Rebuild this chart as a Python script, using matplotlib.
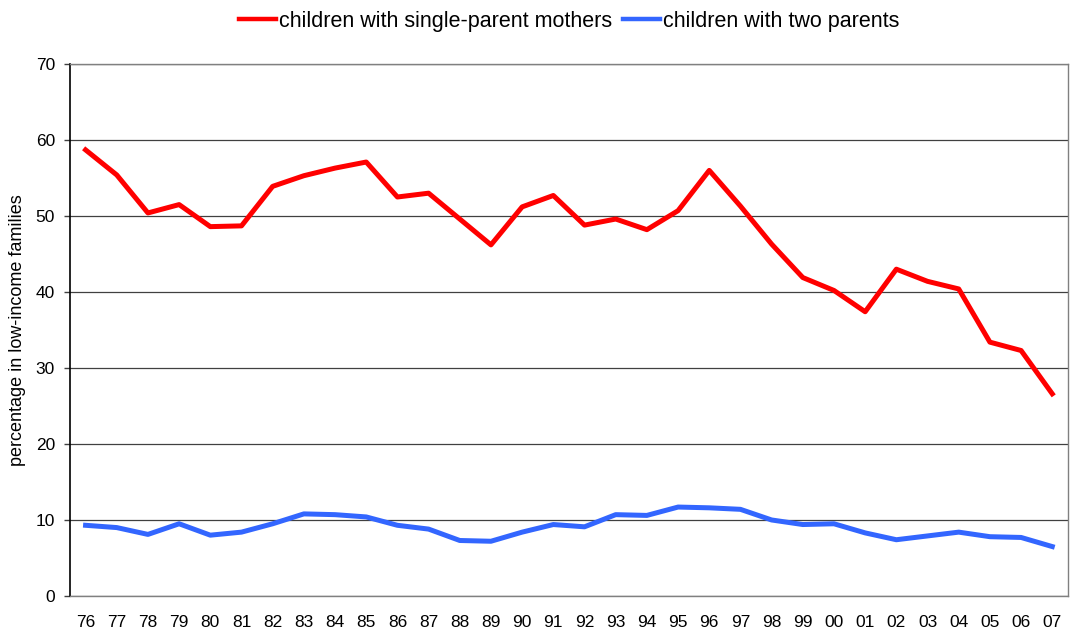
import matplotlib.pyplot as plt

years = ['76', '77', '78', '79', '80', '81', '82', '83', '84', '85', '86', '87',
         '88', '89', '90', '91', '92', '93', '94', '95', '96', '97', '98', '99',
         '00', '01', '02', '03', '04', '05', '06', '07']

single_mothers = [58.7, 55.4, 50.4, 51.5, 48.6, 48.7, 53.9, 55.3, 56.3, 57.1, 52.5, 53.0,
                  49.6, 46.2, 51.2, 52.7, 48.8, 49.6, 48.2, 50.7, 56.0, 51.3, 46.3, 41.9,
                  40.2, 37.4, 43.0, 41.4, 40.4, 33.4, 32.3, 26.6]

two_parents = [9.3, 9.0, 8.1, 9.5, 8.0, 8.4, 9.5, 10.8, 10.7, 10.4, 9.3, 8.8,
               7.3, 7.2, 8.4, 9.4, 9.1, 10.7, 10.6, 11.7, 11.6, 11.4, 10.0, 9.4,
               9.5, 8.3, 7.4, 7.9, 8.4, 7.8, 7.7, 6.5]

plt.rcParams['font.family'] = ['Liberation Sans', 'DejaVu Sans']

fig = plt.figure(figsize=(10.7, 6.33), dpi=100)
ax = fig.add_axes([0.0654, 0.0585, 0.9326, 0.8404])

x = range(len(years))
ax.plot(x, single_mothers, color='#ff0000', linewidth=3.6,
        label='children with single-parent mothers')
ax.plot(x, two_parents, color='#3366ff', linewidth=3.6,
        label='children with two parents')

ax.set_xlim(-0.5, len(years) - 0.5)
ax.set_ylim(0, 70)
ax.set_yticks(range(0, 71, 10))
ax.set_xticks(list(x))
ax.set_xticklabels(years, fontsize=12.5)
ax.tick_params(axis='y', labelsize=12.5, length=4.3, color='#404040', width=1, pad=6.5)
ax.tick_params(axis='x', length=0, pad=14)
ax.grid(axis='y', color='#404040', linewidth=0.9)
ax.set_axisbelow(True)

ax.spines['left'].set_color('black')
ax.spines['left'].set_linewidth(1.2)
for s in ['top', 'right', 'bottom']:
    ax.spines[s].set_color('#808080')
    ax.spines[s].set_linewidth(1.0)

ax.set_ylabel('percentage in low-income families', fontsize=13)
ax.yaxis.set_label_coords(-0.044, 0.5)

leg = fig.legend(loc='center', bbox_to_anchor=(0.532, 0.966), ncol=2, frameon=False,
                 fontsize=15.5, handlelength=1.72, handletextpad=0.15, columnspacing=0.47,
                 borderpad=0, borderaxespad=0)
for line in leg.get_lines():
    line.set_linewidth(3.2)

plt.savefig('out.png', dpi=100)
